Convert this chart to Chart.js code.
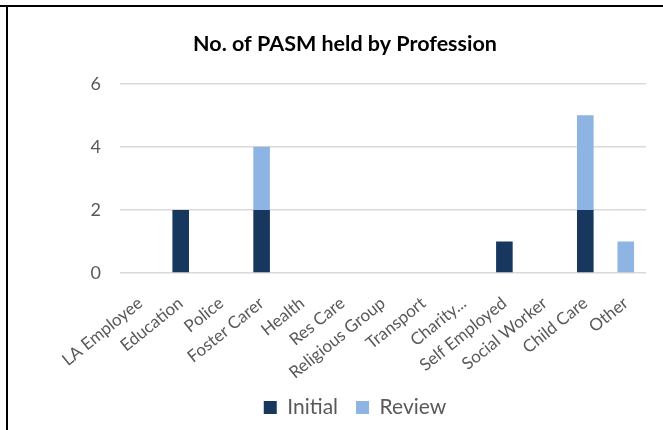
<!DOCTYPE html>
<html>
<head>
<meta charset="utf-8">
<script src="https://cdn.jsdelivr.net/npm/chart.js@4.4.0/dist/chart.umd.min.js"></script>
<style>
  html, body { margin: 0; padding: 0; background: #fff; }
  #wrap { position: relative; width: 663px; height: 430px; overflow: hidden; }
  #frameTop { position: absolute; left: 0; top: 5px; width: 663px; height: 2px; background: #000; }
  #frameLeft { position: absolute; left: 6px; top: 5px; width: 2px; height: 425px; background: #000; }
</style>
</head>
<body>
<div id="wrap">
  <canvas id="myChart" width="663" height="430"></canvas>
  <div id="frameTop"></div>
  <div id="frameLeft"></div>
</div>
<script>
const professions = ['LA Employee', 'Education', 'Police', 'Foster Carer', 'Health', 'Res Care',
    'Religious Group', 'Transport', 'Charity...', 'Self Employed', 'Social Worker', 'Child Care', 'Other'];
const initialCounts = [0, 2, 0, 2, 0, 0, 0, 0, 0, 1, 0, 2, 0];
const reviewCounts = [0, 0, 0, 2, 0, 0, 0, 0, 0, 0, 0, 3, 1];
const yTicks = [0, 2, 4, 6];

const ctx = document.getElementById('myChart');
const fontFam = 'Lato, "Open Sans", sans-serif';
const bottomPad = 2;

// nudge legend right so it sits where the original has it
const shiftLegend = {
    id: 'shiftLegend',
    afterLayout: function(chart) {
        chart.legend.left += 10;
        chart.legend.right += 10;
    }
};

new Chart(ctx, {
    type: 'bar',
    data: {
        labels: professions,
        datasets: [{
            label: 'Initial',
            data: initialCounts,
            backgroundColor: '#17375E',
            borderWidth: 0
        }, {
            label: 'Review',
            data: reviewCounts,
            backgroundColor: '#8DB4E2',
            borderWidth: 0
        }]
    },
    options: {
        responsive: false,
        animation: false,
        layout: { padding: { left: 44, right: 17, top: 0, bottom: bottomPad } },
        datasets: { bar: { barPercentage: 0.41, categoryPercentage: 1 } },
        plugins: {
            title: {
                display: true,
                text: 'No. of PASM held by Profession',
                color: '#000',
                font: { family: fontFam, size: 21.5, weight: 'bold', lineHeight: 1.2 },
                padding: { top: 31, bottom: 27 }
            },
            legend: {
                position: 'bottom',
                labels: {
                    boxWidth: 13,
                    boxHeight: 13,
                    padding: 18,
                    color: '#595959',
                    font: { family: fontFam, size: 21 }
                }
            },
            tooltip: { enabled: false }
        },
        scales: {
            x: {
                stacked: true,
                grid: { display: false },
                border: { display: false },
                ticks: {
                    autoSkip: false,
                    minRotation: 39,
                    maxRotation: 39,
                    padding: 12,
                    color: '#595959',
                    font: { family: fontFam, size: 17 }
                },
                afterFit: function(scale) {
                    const lg = scale.chart.legend;
                    scale.height = 430 - bottomPad - lg.height - 273;
                }
            },
            y: {
                stacked: true,
                min: 0,
                max: 6,
                afterFit: function(scale) { scale.width = 76; },
                afterBuildTicks: function(scale) {
                    scale.ticks = yTicks.map(function(v) { return { value: v }; });
                },
                grid: { color: '#D9D9D9', lineWidth: 1.5, drawTicks: false },
                border: { display: false },
                ticks: {
                    padding: 19,
                    color: '#595959',
                    font: { family: fontFam, size: 18 }
                }
            }
        }
    },
    plugins: [shiftLegend]
});
</script>
</body>
</html>
